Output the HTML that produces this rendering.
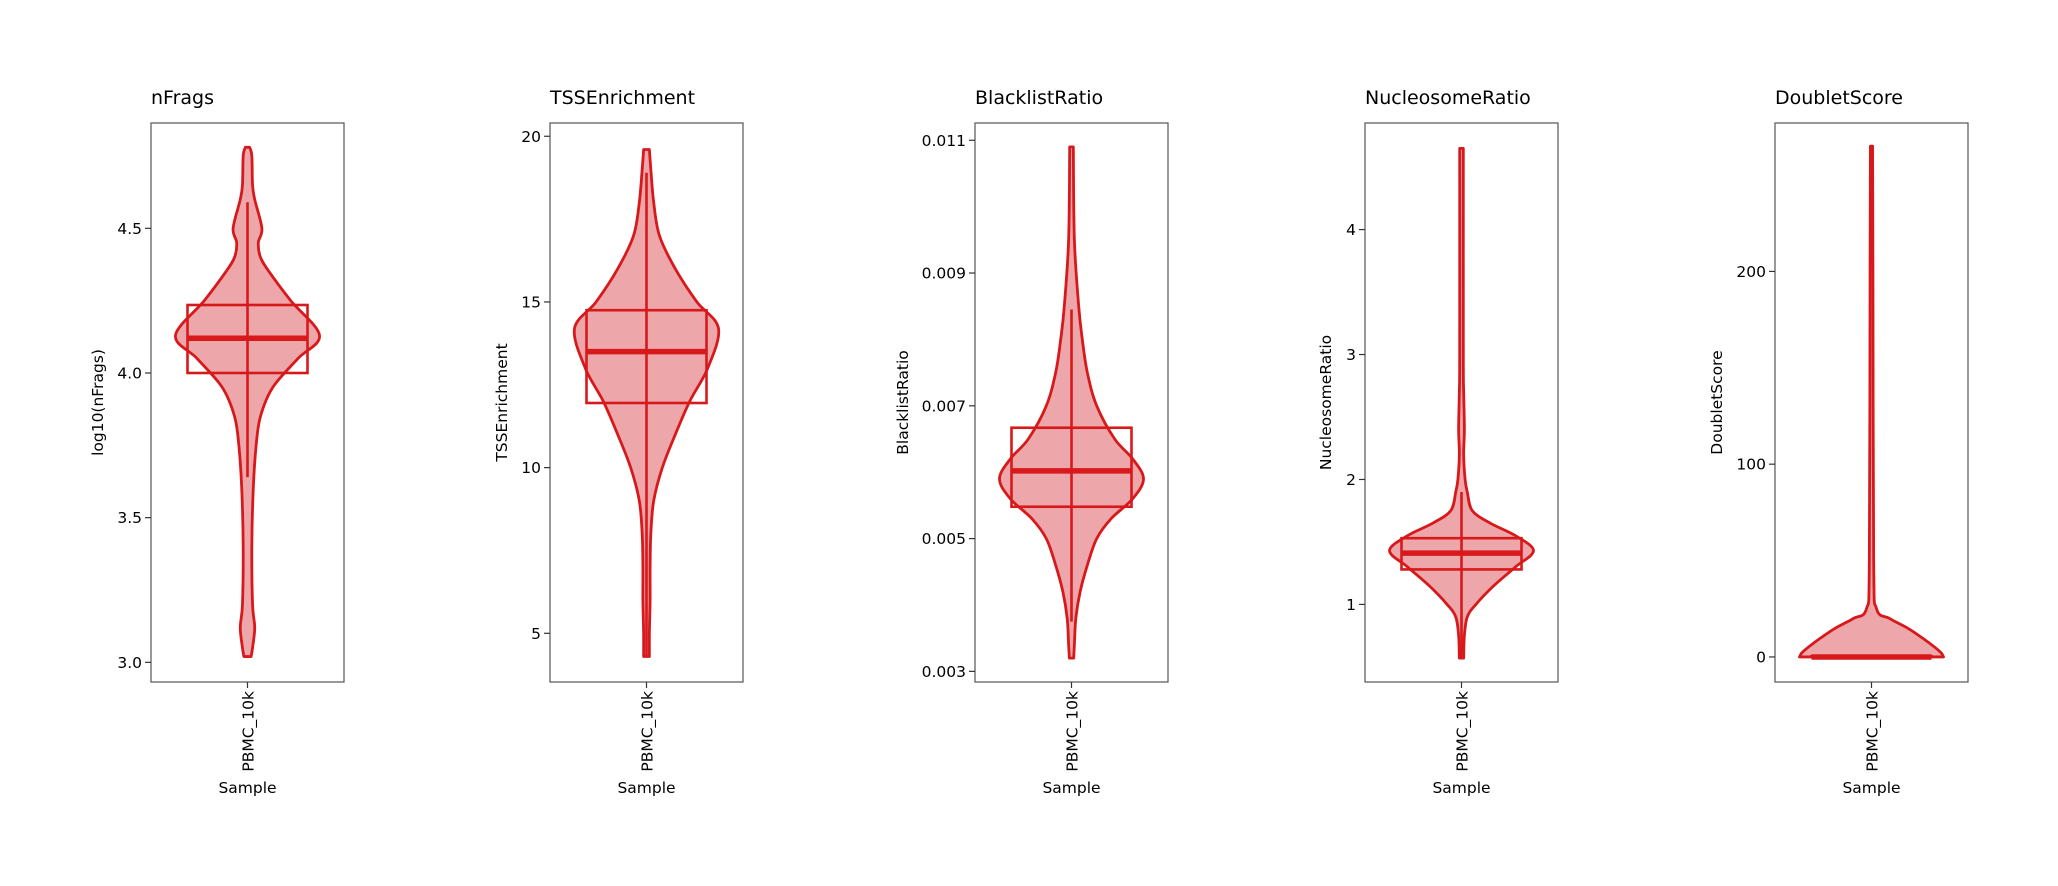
<!DOCTYPE html>
<html><head><meta charset="utf-8"><style>
html,body{margin:0;padding:0;background:#fff;}
svg{display:block;font-family:"DejaVu Sans","Liberation Sans",sans-serif;}
</style></head><body>
<svg id="chart" width="2058" height="886" viewBox="0 0 2058 886" xmlns="http://www.w3.org/2000/svg"></svg>
<script>
// ---- data ----
const panelTitles = ["nFrags","TSSEnrichment","BlacklistRatio","NucleosomeRatio","DoubletScore"];
const yLabels = ["log10(nFrags)","TSSEnrichment","BlacklistRatio","NucleosomeRatio","DoubletScore"];
const category = "PBMC_10k";
const yDomains = [[2.932,4.864],[3.53,20.4],[0.00284,0.01126],[0.379,4.853],[-13,277]];
const yTicks = [[3.0,3.5,4.0,4.5],[5,10,15,20],[0.003,0.005,0.007,0.009,0.011],[1,2,3,4],[0,100,200]];
const yTickLabels = [["3.0","3.5","4.0","4.5"],["5","10","15","20"],["0.003","0.005","0.007","0.009","0.011"],["1","2","3","4"],["0","100","200"]];
// violin profiles: values (y) and relative density (half-width)
const violinY = [
 [4.78,4.75,4.65,4.6,4.5,4.45,4.4,4.35,4.25,4.13,4.05,3.95,3.85,3.75,3.6,3.4,3.2,3.12,3.05,3.02],
 [19.6,19,18,17,16,15,14.2,13,12,11,10,9,8,7,6,5,4.3],
 [0.0109,0.0095,0.0085,0.008,0.0075,0.007,0.0065,0.0062,0.0059,0.0056,0.0053,0.005,0.0046,0.0042,0.0038,0.0034,0.0032],
 [4.65,3,2.7,2.4,2.2,2.0,1.9,1.75,1.65,1.55,1.43,1.3,1.15,1.0,0.9,0.75,0.57],
 [265,200,50,25,20,15,10,5,2,0]
];
const violinD = [
 [0.03,0.06,0.07,0.1,0.2,0.15,0.18,0.3,0.6,1.0,0.7,0.35,0.18,0.12,0.08,0.06,0.07,0.1,0.07,0.05],
 [0.04,0.06,0.1,0.18,0.4,0.7,1.0,0.85,0.6,0.4,0.22,0.1,0.06,0.05,0.05,0.04,0.04],
 [0.025,0.04,0.1,0.15,0.22,0.35,0.6,0.85,1.0,0.85,0.55,0.35,0.22,0.12,0.06,0.04,0.03],
 [0.025,0.025,0.03,0.04,0.03,0.05,0.08,0.15,0.4,0.75,1.0,0.75,0.45,0.2,0.08,0.04,0.03],
 [0.015,0.02,0.03,0.07,0.25,0.5,0.7,0.88,0.97,1.0]
];
const boxQ1 = [4.0,11.95,0.00548,1.28,0];
const boxMedian = [4.12,13.5,0.00602,1.41,0];
const boxQ3 = [4.235,14.75,0.00667,1.53,0.4];
const whiskerLow = [3.64,4.3,0.00375,0.57,0];
const whiskerHigh = [4.59,18.9,0.00845,1.9,0];

// ---- layout ----
const axLeft = [151,550,975,1365,1775];
const axW = 193, axTop = 123, axBottom = 682;
const yLabelOff = [48,43,67,34,53];
const maxHalf = 72, boxHalf = 60;
const RED = "#d7191c", FILL = "#eda6a9";
const svg = document.getElementById('chart');
const NS = "http://www.w3.org/2000/svg";
function mk(tag, attrs, parent){const e=document.createElementNS(NS,tag);for(const k in attrs)e.setAttribute(k,attrs[k]);(parent||svg).appendChild(e);return e;}

function smoothPath(pts){
  let d = "M"+pts[0][0]+","+pts[0][1];
  for(let i=0;i<pts.length-1;i++){
    const p0=pts[Math.max(0,i-1)],p1=pts[i],p2=pts[i+1],p3=pts[Math.min(pts.length-1,i+2)];
    const c1=[p1[0]+(p2[0]-p0[0])/6,p1[1]+(p2[1]-p0[1])/6];
    const c2=[p2[0]-(p3[0]-p1[0])/6,p2[1]-(p3[1]-p1[1])/6];
    d+=" C"+c1[0]+","+c1[1]+" "+c2[0]+","+c2[1]+" "+p2[0]+","+p2[1];
  }
  return d;
}

for(let p=0;p<panelTitles.length;p++){
  const g = mk('g',{});
  
  
  const L=axLeft[p], cx=L+axW/2;
  const [y0,y1]=yDomains[p];
  const ys = v => axBottom - (v-y0)/(y1-y0)*(axBottom-axTop);

  const t = mk('text',{x:L,y:104,'font-size':19,fill:'#000'},g);
  t.textContent = panelTitles[p];
  
  

  const fr = mk('rect',{x:L,y:axTop,width:axW,height:axBottom-axTop,fill:'none',stroke:'#555','stroke-width':1.2},g);
  
  

  // violin
  const vy=violinY[p], vd=violinD[p];
  const right = vy.map((v,i)=>[cx+vd[i]*maxHalf, ys(v)]);
  const left = vy.map((v,i)=>[cx-vd[i]*maxHalf, ys(v)]).reverse();
  let d;
  if(p===4){
    const base=ys(vy[vy.length-1]);
    d = smoothPath(right)+" L"+(cx-maxHalf)+","+base+" "+smoothPath(left).replace(/^M/," L")+" Z";
  } else {
    d = "M"+cx+","+ys(vy[0])+" L"+right[0][0]+","+right[0][1]+smoothPath(right).replace(/^M[^C]*/," ")+" L"+cx+","+right[right.length-1][1]+" L"+left[0][0]+","+left[0][1]+smoothPath(left).replace(/^M[^C]*/," ")+" Z";
  }
  const vp = mk('path',{d:d,fill:FILL,stroke:RED,'stroke-width':2.8,'stroke-linejoin':'round'},g);
  
  

  // whisker
  const wl = mk('line',{x1:cx,x2:cx,y1:ys(whiskerLow[p]),y2:ys(whiskerHigh[p]),stroke:RED,'stroke-width':2.6},g);
  
  
  // box
  const bx = mk('rect',{x:cx-boxHalf,y:ys(boxQ3[p]),width:2*boxHalf,height:Math.max(0.1,ys(boxQ1[p])-ys(boxQ3[p])),fill:'none',stroke:RED,'stroke-width':2.6},g);
  
  
  const md = mk('line',{x1:cx-boxHalf,x2:cx+boxHalf,y1:ys(boxMedian[p]),y2:ys(boxMedian[p]),stroke:RED,'stroke-width':5.5},g);
  
  

  // y ticks
  yTicks[p].forEach((v,i)=>{
    const y=ys(v);
    const tk = mk('line',{x1:L-6,x2:L,y1:y,y2:y,stroke:'#333','stroke-width':1.2},g);
    
    
    const tl = mk('text',{x:L-9,y:y+5.5,'font-size':15.5,'text-anchor':'end',fill:'#000'},g);
    tl.textContent = yTickLabels[p][i];
    
    
  });
  // y label
  const ylx = L-yLabelOff[p], yly=(axTop+axBottom)/2;
  const yl = mk('text',{x:ylx,y:yly,'font-size':15.5,'text-anchor':'middle',fill:'#000',transform:'rotate(-90 '+ylx+' '+yly+')'},g);
  yl.textContent = yLabels[p];
  
  
  // x tick
  const xt = mk('line',{x1:cx,x2:cx,y1:axBottom,y2:axBottom+6,stroke:'#333','stroke-width':1.2},g);
  
  
  const xlx=cx+6, xly=axBottom+9;
  const xl = mk('text',{x:xlx,y:xly,'font-size':15.5,'text-anchor':'end',fill:'#000',transform:'rotate(-90 '+xlx+' '+xly+')'},g);
  xl.textContent = category;
  
  
  const xa = mk('text',{x:cx,y:793,'font-size':15.5,'text-anchor':'middle',fill:'#000'},g);
  xa.textContent = "Sample";
  
  
}
</script>
</body></html>
